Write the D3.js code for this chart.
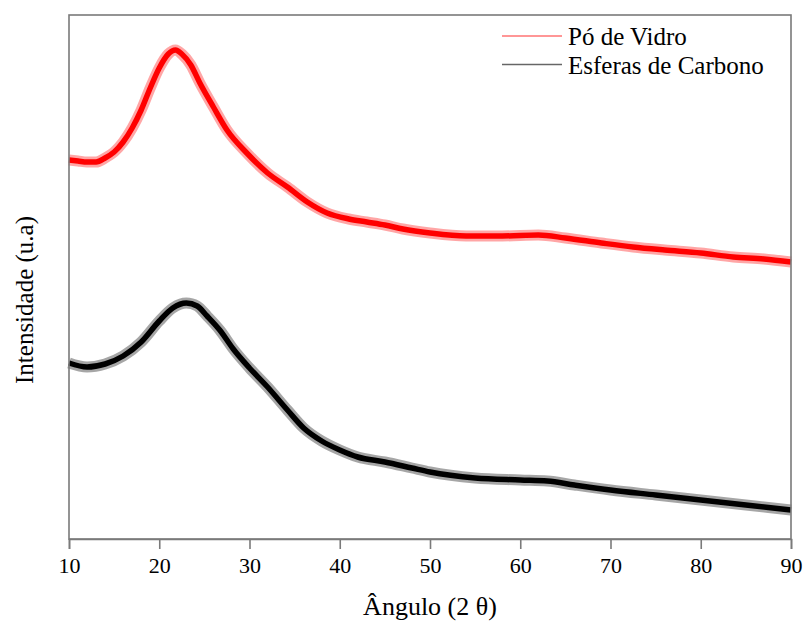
<!DOCTYPE html>
<html>
<head>
<meta charset="utf-8">
<script src="https://cdn.jsdelivr.net/npm/d3@7"></script>
<style>
  body { margin: 0; background: #fff; }
  text { font-family: "Liberation Serif", "Times New Roman", serif; fill: #000; }
</style>
</head>
<body>
<svg id="plot"></svg>
<script>
// Values (2 theta in degrees, intensity in a.u.)
const vidroAngle = [10, 11, 12, 13, 14, 15, 16, 17, 18, 19, 20, 21, 21.8, 22.5, 23.5, 24.5, 26, 27.5, 29.7, 32, 34.2, 36.4, 38.6, 41, 43, 45, 47, 50, 54, 58, 62, 65, 69, 72.5, 76, 80, 83.6, 87, 90];
const vidroInt   = [379, 378, 377, 377, 381, 387, 397, 411, 429, 451, 471, 485, 489, 485, 474, 456, 432, 409, 386, 366, 352, 337, 326, 320, 317, 314, 310, 306, 303, 303, 304, 301, 296, 292, 289, 286, 282, 280, 277];

const carbonoAngle = [10, 12, 14, 16, 18, 20, 21.5, 23, 24.2, 25.3, 26.7, 28.2, 30, 32, 34.2, 36, 38, 40, 42, 45, 48, 50, 55, 60, 63, 66, 70, 75, 80, 85, 90];
const carbonoInt   = [176, 172, 175, 183, 197, 218, 231, 236, 233, 223, 209, 190, 171, 152, 129, 111, 98, 89, 82, 77, 71, 67, 61, 59, 58, 54, 49, 44, 39, 34, 29];

const xTicks = [10, 20, 30, 40, 50, 60, 70, 80, 90];
const seriesNames = ["Pó de Vidro", "Esferas de Carbono"];
const seriesColors = ["#ff0000", "#000000"];

// Canvas and plot area
const W = 804, H = 625;
const margin = {top: 15, right: 13, bottom: 86, left: 69},
      width = W - margin.left - margin.right,
      height = H - margin.top - margin.bottom;

const x = d3.scaleLinear().domain([10, 90]).range([0, width]);
const y = d3.scaleLinear().domain([0, 524]).range([height, 0]);

const svg = d3.select("#plot")
    .attr("width", W)
    .attr("height", H)
  .append("g")
    .attr("transform", "translate(" + margin.left + "," + margin.top + ")");

const series = [
  vidroAngle.map((a, i) => ({a: a, v: vidroInt[i]})),
  carbonoAngle.map((a, i) => ({a: a, v: carbonoInt[i]}))
];

const line = d3.line()
    .x(d => x(d.a))
    .y(d => y(d.v))
    .curve(d3.curveMonotoneX);

// Lines: a soft wide stroke for the noise band plus a solid core
series.forEach((s, i) => {
  svg.append("path")
      .datum(s)
      .attr("fill", "none")
      .attr("stroke", seriesColors[i])
      .attr("stroke-opacity", 0.35)
      .attr("stroke-width", 11)
      .attr("stroke-linejoin", "round")
      .attr("d", line);
  svg.append("path")
      .datum(s)
      .attr("fill", "none")
      .attr("stroke", seriesColors[i])
      .attr("stroke-width", 5.5)
      .attr("stroke-linejoin", "round")
      .attr("d", line);
});

// Frame
svg.append("rect")
    .attr("width", width)
    .attr("height", height)
    .attr("fill", "none")
    .attr("stroke", "#7a7a7a")
    .attr("stroke-width", 1.6);

// x axis
const xAxis = svg.append("g")
    .attr("transform", "translate(0," + height + ")")
    .call(d3.axisBottom(x).tickValues(xTicks).tickSize(10).tickPadding(8).tickFormat(d3.format("d")));
xAxis.select(".domain").attr("stroke", "#7a7a7a").attr("stroke-width", 1.6);
xAxis.selectAll(".tick line").attr("stroke", "#7a7a7a").attr("stroke-width", 1.6);
xAxis.selectAll(".tick text")
    .style("font-family", "'Liberation Serif', serif")
    .style("font-size", "22px")
    .attr("fill", "#000");

// Axis titles
svg.append("text")
    .attr("x", width / 2)
    .attr("y", height + 76)
    .attr("text-anchor", "middle")
    .style("font-size", "26px")
    .text("Ângulo (2 θ)");

svg.append("text")
    .attr("transform", "translate(" + (33 - margin.left) + "," + (300 - margin.top) + ") rotate(-90)")
    .attr("text-anchor", "middle")
    .style("font-size", "25px")
    .text("Intensidade (u.a)");

// Legend
const legend = svg.append("g")
    .attr("transform", "translate(" + (502 - margin.left) + "," + (36 - margin.top) + ")");
seriesNames.forEach((name, i) => {
  const row = legend.append("g").attr("transform", "translate(0," + (i * 28.5) + ")");
  row.append("line")
      .attr("x1", 0).attr("x2", 60)
      .attr("stroke", seriesColors[i])
      .attr("stroke-opacity", i === 0 ? 0.55 : 0.6)
      .attr("stroke-width", 1.5);
  row.append("text")
      .attr("x", 66)
      .attr("y", 9)
      .style("font-size", "25px")
      .text(name);
});
</script>
</body>
</html>
